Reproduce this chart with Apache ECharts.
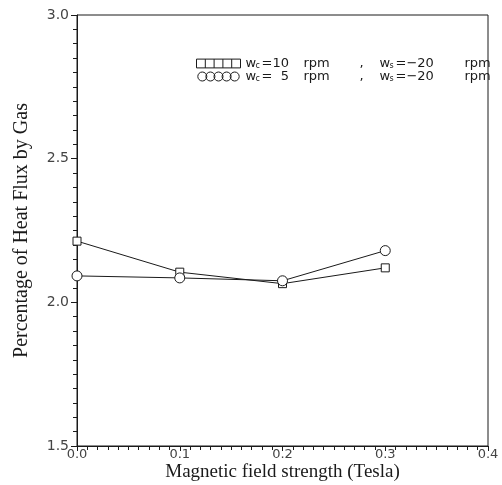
<!DOCTYPE html>
<html>
<head>
<meta charset="utf-8">
<script src="https://cdn.jsdelivr.net/npm/echarts@6/dist/echarts.min.js"></script>
<style>
  html, body { margin: 0; padding: 0; background: #fff; }
  #chart { width: 502px; height: 485px; }
</style>
</head>
<body>
<div id="chart"></div>
<script>
// magnetic field strength (Tesla)
const fieldB = [0.0, 0.1, 0.2, 0.3]
// percentage of heat flux by gas
const wc10 = [2.213, 2.105, 2.065, 2.12]
const wc5 = [2.092, 2.085, 2.075, 2.18]
const seriesNames = ['wc10', 'wc5']
const legendLabels = {
  wc10: '{w|w}{sub|c}{eq|=10}{rpm|rpm}{cm|,}{w|w}{sub|s}{eqs|=\u221220}{last|rpm}',
  wc5: '{w|w}{sub|c}{eq|=  5}{rpm|rpm}{cm|,}{w|w}{sub|s}{eqs|=\u221220}{last|rpm}'
}

const pair = (xs, ys) => xs.map((x, i) => [x, ys[i]])

// five joined squares / circles for the legend keys
const squaresIcon = 'path://M0 0 L45 0 L45 9 L0 9 Z M9 0 L9 9 M18 0 L18 9 M27 0 L27 9 M36 0 L36 9'
const circlesIcon = 'path://M0 5 A5 5 0 1 1 10 5 A5 5 0 1 1 0 5 Z M9 5 A5 5 0 1 1 19 5 A5 5 0 1 1 9 5 Z M18 5 A5 5 0 1 1 28 5 A5 5 0 1 1 18 5 Z M27 5 A5 5 0 1 1 37 5 A5 5 0 1 1 27 5 Z M36 5 A5 5 0 1 1 46 5 A5 5 0 1 1 36 5 Z'

const sans = 'DejaVu Sans'
const serif = 'Liberation Serif'
const ink = '#1a1a1a'
const tok = (w) => ({ fontFamily: sans, fontSize: 13, color: ink, width: w, lineHeight: 13, verticalAlign: 'top' })

const myChart = echarts.init(document.getElementById('chart'))
const option = {
  animation: false,
  backgroundColor: '#fff',
  grid: {
    left: 77, right: 14, top: 15, bottom: 39,
    outerBoundsMode: 'none',
    containLabel: false,
    show: true, borderColor: ink, borderWidth: 1
  },
  legend: {
    orient: 'vertical',
    left: 191,
    top: 52,
    itemGap: 0,
    itemWidth: 44,
    itemHeight: 9,
    data: [
      { name: 'wc10', icon: squaresIcon },
      { name: 'wc5', icon: circlesIcon }
    ],
    itemStyle: { color: 'transparent', borderColor: ink, borderWidth: 1 },
    lineStyle: { width: 0, opacity: 0 },
    formatter: (name) => legendLabels[name],
    textStyle: {
      rich: {
        w: tok(10),
        sub: { fontFamily: sans, fontSize: 8, color: ink, width: 6, lineHeight: 7, verticalAlign: 'bottom' },
        eq: tok(42),
        rpm: tok(56),
        cm: tok(20),
        eqs: tok(69),
        last: tok(36)
      }
    }
  },
  xAxis: {
    type: 'value',
    min: 0, max: 0.4, interval: 0.1,
    name: 'Magnetic field strength (Tesla)',
    nameLocation: 'middle',
    nameGap: 17,
    nameMoveOverlap: false,
    nameTextStyle: { fontFamily: serif, fontSize: 19, color: ink },
    axisLine: { show: true, lineStyle: { color: ink, width: 1 } },
    axisTick: { show: true, length: 5, lineStyle: { color: ink } },
    minorTick: { show: true, splitNumber: 10, length: 4, lineStyle: { color: ink } },
    splitLine: { show: false },
    axisLabel: {
      fontFamily: sans, fontSize: 13, color: '#444', margin: 2,
      formatter: (v) => v.toFixed(1)
    }
  },
  yAxis: {
    type: 'value',
    min: 1.5, max: 3.0, interval: 0.5,
    name: 'Percentage of Heat Flux by Gas',
    nameLocation: 'middle',
    nameGap: 45,
    nameMoveOverlap: false,
    nameTextStyle: { fontFamily: serif, fontSize: 20, color: ink },
    axisLine: { show: true, lineStyle: { color: ink, width: 1 } },
    axisTick: { show: true, length: 6, lineStyle: { color: ink } },
    minorTick: { show: true, splitNumber: 10, length: 4, lineStyle: { color: ink } },
    splitLine: { show: false },
    axisLabel: {
      fontFamily: sans, fontSize: 14, color: '#444', margin: 8,
      formatter: (v) => v.toFixed(1)
    }
  },
  series: [
    {
      name: seriesNames[0],
      type: 'line',
      data: pair(fieldB, wc10),
      symbol: 'rect',
      symbolSize: 8,
      lineStyle: { color: ink, width: 1 },
      itemStyle: { color: '#fff', borderColor: ink, borderWidth: 1 }
    },
    {
      name: seriesNames[1],
      type: 'line',
      data: pair(fieldB, wc5),
      symbol: 'circle',
      symbolSize: 10,
      lineStyle: { color: ink, width: 1 },
      itemStyle: { color: '#fff', borderColor: ink, borderWidth: 1 }
    }
  ]
}
myChart.setOption(option)
</script>
</body>
</html>
